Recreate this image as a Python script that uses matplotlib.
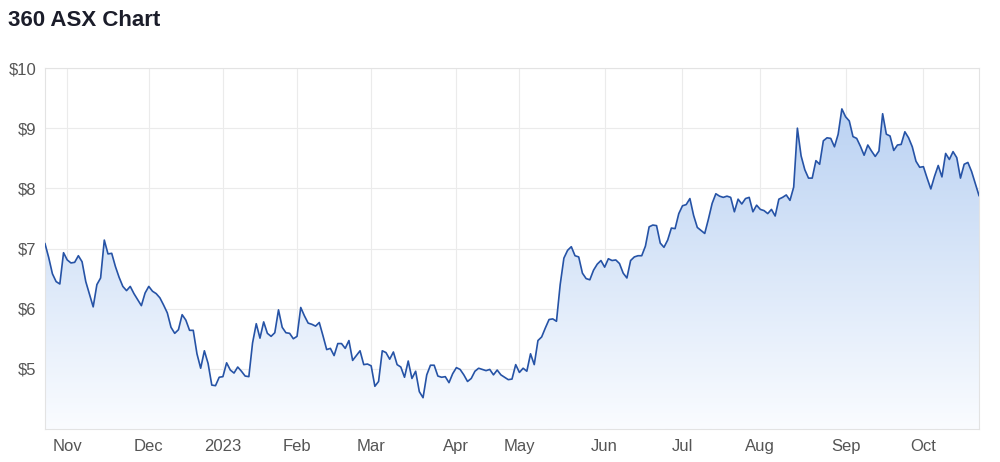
import numpy as np
import pandas as pd
import matplotlib
matplotlib.use("Agg")
import matplotlib.pyplot as plt

# ---- data ----
title = "360 ASX Chart"
start_date = "2022-10-24"
end_date = "2023-10-23"
asx_holidays = ["2022-12-26", "2022-12-27", "2023-01-02", "2023-01-26",
                "2023-04-07", "2023-04-10", "2023-04-25", "2023-06-12"]
prices = [
    7.08, 6.85, 6.58, 6.45, 6.41, 6.93, 6.81, 6.76, 6.77, 6.88,
    6.78, 6.45, 6.24, 6.03, 6.40, 6.51, 7.14, 6.91, 6.92, 6.70,
    6.52, 6.37, 6.30, 6.37, 6.25, 6.15, 6.05, 6.26, 6.37, 6.29,
    6.25, 6.18, 6.06, 5.93, 5.69, 5.59, 5.65, 5.90, 5.81, 5.64,
    5.64, 5.25, 5.01, 5.30, 5.09, 4.73, 4.72, 4.86, 4.87, 5.10,
    4.98, 4.93, 5.03, 4.96, 4.88, 4.87, 5.43, 5.75, 5.51, 5.78,
    5.59, 5.54, 5.60, 5.98, 5.69, 5.60, 5.59, 5.50, 5.54, 6.02,
    5.88, 5.76, 5.74, 5.71, 5.77, 5.55, 5.32, 5.34, 5.22, 5.42,
    5.42, 5.34, 5.47, 5.14, 5.22, 5.30, 5.07, 5.08, 5.05, 4.71,
    4.79, 5.30, 5.27, 5.16, 5.28, 5.07, 5.03, 4.86, 5.13, 4.84,
    4.96, 4.62, 4.52, 4.90, 5.06, 5.06, 4.88, 4.86, 4.87, 4.77,
    4.92, 5.02, 4.99, 4.90, 4.79, 4.84, 4.96, 5.01, 4.99, 4.97,
    4.99, 4.90, 4.98, 4.90, 4.86, 4.82, 4.83, 5.07, 4.94, 5.01,
    4.96, 5.25, 5.07, 5.47, 5.53, 5.68, 5.82, 5.83, 5.79, 6.40,
    6.84, 6.97, 7.03, 6.88, 6.86, 6.59, 6.50, 6.48, 6.64, 6.74,
    6.80, 6.69, 6.83, 6.80, 6.81, 6.75, 6.59, 6.51, 6.80, 6.86,
    6.88, 6.88, 7.04, 7.36, 7.39, 7.38, 7.09, 7.02, 7.14, 7.34,
    7.33, 7.58, 7.71, 7.73, 7.83, 7.55, 7.35, 7.30, 7.25, 7.49,
    7.75, 7.91, 7.87, 7.85, 7.87, 7.85, 7.61, 7.82, 7.74, 7.83,
    7.85, 7.61, 7.72, 7.65, 7.63, 7.58, 7.65, 7.54, 7.82, 7.85,
    7.89, 7.80, 8.02, 9.00, 8.54, 8.31, 8.17, 8.17, 8.46, 8.40,
    8.79, 8.84, 8.83, 8.69, 8.90, 9.32, 9.19, 9.12, 8.86, 8.83,
    8.70, 8.55, 8.72, 8.62, 8.53, 8.62, 9.24, 8.90, 8.87, 8.63,
    8.72, 8.73, 8.94, 8.84, 8.69, 8.45, 8.35, 8.36, 8.17, 7.99,
    8.20, 8.38, 8.19, 8.58, 8.48, 8.61, 8.51, 8.17, 8.40, 8.43,
    8.28, 8.08, 7.88,
]
month_labels = ["Nov", "Dec", "2023", "Feb", "Mar", "Apr", "May", "Jun",
                "Jul", "Aug", "Sep", "Oct"]
y_ticks = [5, 6, 7, 8, 9, 10]
y_tick_labels = ["$5", "$6", "$7", "$8", "$9", "$10"]

# ---- trading-day axis ----
dates = pd.bdate_range(start_date, end_date)
dates = dates[~dates.isin(pd.to_datetime(asx_holidays))]
n = min(len(dates), len(prices))
dates = dates[:n]
y = np.array(prices[:n])
x = np.arange(n)

month_idx = [i for i in range(1, n) if dates[i].month != dates[i - 1].month]
month_idx = month_idx[:len(month_labels)]

# ---- figure ----
fig = plt.figure(figsize=(10, 4.62), dpi=100)
ax = fig.add_axes([0.045, 1 - 429 / 462, 0.934, (429 - 68) / 462])

ymin, ymax = 4, 10
ax.set_xlim(0, n - 1)
ax.set_ylim(ymin, ymax)

# gradient fill under line
top_c = np.array(matplotlib.colors.to_rgb("#b3cdf1"))
bot_c = np.array(matplotlib.colors.to_rgb("#fafcff"))
t = np.linspace(0, 1, 256)[:, None]
grad = (top_c[None, :] * (1 - t) + bot_c[None, :] * t)[:, None, :]
im = ax.imshow(grad, extent=[0, n - 1, ymin, ymax], aspect="auto",
               origin="upper", zorder=1, interpolation="bilinear")
poly = ax.fill_between(x, y, ymin, facecolor="none", edgecolor="none")
im.set_clip_path(poly.get_paths()[0], transform=ax.transData)

ax.plot(x, y, color="#2653a6", lw=1.2, zorder=3, solid_joinstyle="round")

# grid
ax.set_yticks(y_ticks)
ax.set_yticklabels(y_tick_labels)
ax.set_xticks(month_idx)
ax.set_xticklabels(month_labels)
ax.grid(True, color="#ebebeb", lw=0.8, zorder=0)
ax.set_axisbelow(True)
for s in ax.spines.values():
    s.set_color("#e3e3e3")
    s.set_linewidth(0.8)

ax.tick_params(axis="both", length=0, colors="#555555", labelsize=12)
ax.tick_params(axis="x", pad=7)
ax.tick_params(axis="y", pad=6)
for lab in ax.get_xticklabels() + ax.get_yticklabels():
    lab.set_fontfamily(["Liberation Sans", "DejaVu Sans"])

fig.text(0.008, 1 - 26.5 / 462, title, fontsize=16, fontweight="bold",
         color="#1b1d2a", family=["Liberation Sans", "DejaVu Sans"],
         va="baseline", ha="left")

fig.savefig("out.png", dpi=100, facecolor="white")
